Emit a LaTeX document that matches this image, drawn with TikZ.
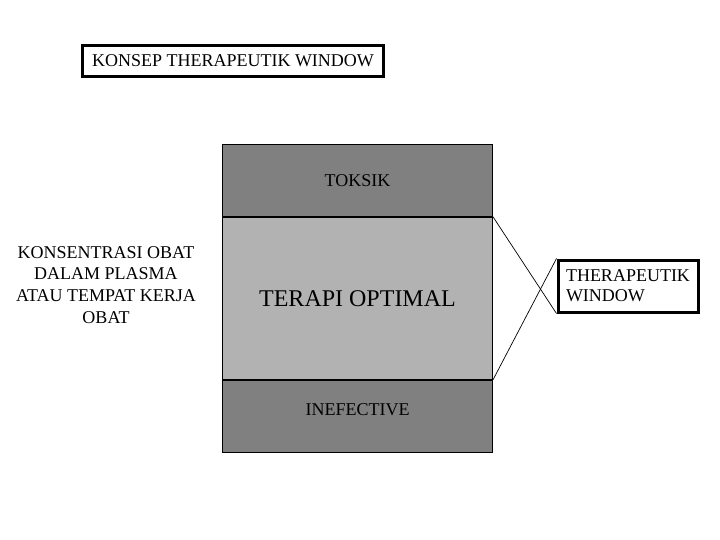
\documentclass[tikz,border=0pt]{standalone}
\usepackage{fontspec}
\setmainfont{Liberation Serif}
\usepackage{xcolor}
\usetikzlibrary{positioning}
\definecolor{darkband}{HTML}{808080}
\definecolor{lightband}{HTML}{B2B2B2}
\tikzset{
  band/.style={draw=black, line width=1pt, minimum width=270pt, inner sep=0pt,
               font=\fontsize{18}{22}\selectfont},
  framed/.style={draw=black, line width=3pt, inner sep=0pt,
                 font=\fontsize{18}{20}\selectfont},
  lbl/.style={align=center, font=\fontsize{18}{21.8}\selectfont},
  link/.style={draw=black, line width=.7pt}
}
\begin{document}
\begin{tikzpicture}[x=1pt, y=-1pt]
  \useasboundingbox[fill=white] (0,0) rectangle (720,540);

  \node[framed, minimum width=301pt, minimum height=31pt] (title) at (233,61)
       {KONSEP THERAPEUTIK WINDOW};

  \node[band, fill=darkband, minimum height=72pt] (toksik) at (357.5,180.3) {TOKSIK};
  \node[band, fill=lightband, minimum height=162pt, below=0pt of toksik,
        font=\fontsize{24}{28}\selectfont] (terapi) {TERAPI OPTIMAL};
  \node[band, fill=darkband, minimum height=72pt, text depth=14pt,
        below=0pt of terapi] (ineff) {INEFECTIVE};

  \node[lbl] (konsentrasi) at (106,285)
       {KONSENTRASI OBAT\\DALAM PLASMA\\ATAU TEMPAT KERJA\\OBAT};

  \node[framed, text width=124pt, inner xsep=8pt, minimum height=52pt, align=left]
       (window) at (628,286) {THERAPEUTIK\\WINDOW};

  \draw[link] (toksik.south east) -- (window.south west);
  \draw[link] (ineff.north east) -- (window.north west);
\end{tikzpicture}
\end{document}
